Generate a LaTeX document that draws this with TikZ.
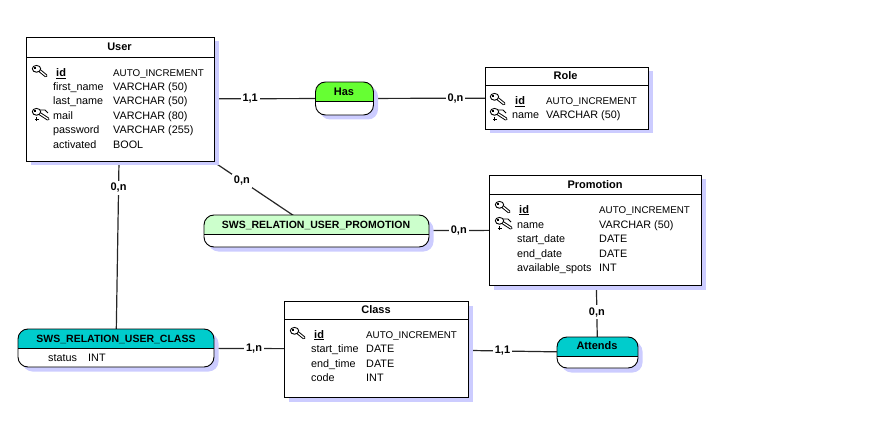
\documentclass[tikz,border=0pt]{standalone}
\usepackage{fontspec}
\setmainfont{Liberation Sans}
\usetikzlibrary{calc, shadows, backgrounds}
\definecolor{ShadowBlue}{RGB}{204, 204, 255}
\definecolor{HasGreen}{RGB}{102, 255, 51}
\definecolor{PaleGreen}{RGB}{204, 255, 204}
\definecolor{RelTeal}{RGB}{0, 204, 204}
\tikzset{
  blueshadow/.style={general shadow={draw=none, fill=ShadowBlue, shadow xshift=4.5pt, shadow yshift=-4.5pt}},
  tablebox/.style={draw=black, fill=white, line width=0.9pt, inner sep=0pt, outer sep=0pt, blueshadow},
  relbox/.style n args={2}{draw=black, fill=white, line width=0.9pt, inner sep=0pt, outer sep=0pt,
    rounded corners=10pt, blueshadow,
    path picture={
      \fill[#1, sharp corners] (path picture bounding box.north west) rectangle ($(path picture bounding box.north east)+(0,-#2)$);
      \draw[line width=0.9pt, sharp corners] ($(path picture bounding box.north west)+(0,-#2)$) -- ($(path picture bounding box.north east)+(0,-#2)$);
    }},
  titletext/.style={font=\fontsize{11}{13}\selectfont\bfseries, anchor=base},
  reltitle/.style={font=\fontsize{10.5}{13}\selectfont\bfseries, anchor=base},
  rowtext/.style={font=\fontsize{10.8}{13}\selectfont, anchor=base west, inner sep=0pt},
  autotext/.style={font=\fontsize{9.8}{13}\selectfont, anchor=base west, inner sep=0pt},
  idtext/.style={font=\fontsize{11}{13}\selectfont\bfseries, anchor=base west, inner sep=0pt},
  link/.style={line width=1.2pt, draw=black!85},
  cardlabel/.style={font=\fontsize{11}{13}\selectfont\bfseries, fill=white, text=black, inner sep=2pt},
  keyone/.pic={
    \draw[line width=3.2pt, line cap=round] (7.5,5.5) -- (14,10.8);
    \draw[white, line width=1.3pt, line cap=round] (7.5,5.5) -- (14,10.8);
    \draw[fill=white, line width=0.9pt] (4.5,3.8) ellipse (4.2 and 3.4);
    \fill[black] (2.4,2.4) rectangle (3.8,3.8);
  },
  keytwo/.pic={
    \draw[line width=0.9pt] (8,2) -- (13,2) -- (16,5);
    \draw[line width=3.2pt, line cap=round] (7.5,5.5) -- (16,11);
    \draw[white, line width=1.3pt, line cap=round] (7.5,5.5) -- (16,11);
    \draw[fill=white, line width=0.9pt] (4.5,3.8) ellipse (4.2 and 3.4);
    \fill[black] (2.4,2.4) rectangle (3.8,3.8);
    \draw[line width=0.8pt] (3,11) -- (6.5,11) (4.75,9.25) -- (4.75,12.75);
  }
}
\begin{document}
\begin{tikzpicture}[x=1pt, y=-1pt]
  \useasboundingbox (0,0) rectangle (896,422);
  % entity tables
  \node (user) [tablebox, minimum width=188pt, minimum height=124pt] at (120,99) {};
  \node (role) [tablebox, minimum width=163pt, minimum height=62pt] at (566.5,98) {};
  \node (promotion) [tablebox, minimum width=212pt, minimum height=110pt] at (595.5,230) {};
  \node (class) [tablebox, minimum width=184pt, minimum height=96pt] at (376.5,349) {};
  % relations
  \node (has) [relbox={HasGreen}{19.5pt}, minimum width=58pt, minimum height=33pt] at (344.5,98.5) {};
  \node (relpromo) [relbox={PaleGreen}{19pt}, minimum width=225pt, minimum height=32pt] at (316.5,231) {};
  \node (relclass) [relbox={RelTeal}{19pt}, minimum width=196pt, minimum height=38pt] at (116,348) {};
  \node (attends) [relbox={RelTeal}{19pt}, minimum width=81pt, minimum height=31pt] at (597.5,352.5) {};
  % header rules
  \draw[line width=0.9pt] (user.west |- 0,57) -- (user.east |- 0,57);
  \draw[line width=0.9pt] (role.west |- 0,85) -- (role.east |- 0,85);
  \draw[line width=0.9pt] (promotion.west |- 0,194.5) -- (promotion.east |- 0,194.5);
  \draw[line width=0.9pt] (class.west |- 0,319.5) -- (class.east |- 0,319.5);
  % titles
  \node (usertitle) [titletext] at (119.5,51) {User};
  \node (roletitle) [titletext] at (565.5,79.5) {Role};
  \node (promotitle) [titletext] at (595,189) {Promotion};
  \node (classtitle) [titletext] at (376,313) {Class};
  \node (hastitle) [titletext] at (344,96) {Has};
  \node (relpromotitle) [reltitle] at (316,228) {SWS\_RELATION\_USER\_PROMOTION};
  \node (relclasstitle) [reltitle] at (116,342) {SWS\_RELATION\_USER\_CLASS};
  \node (attendstitle) [titletext] at (597,349) {Attends};
  % user rows
  \node (userid) [idtext] at (56,77) {\underline{id}};
  \node (useridt) [autotext] at (113,77) {AUTO\_INCREMENT};
  \foreach \y/\nm/\ty [count=\i] in {90.5/first\_name/VARCHAR (50), 105/last\_name/VARCHAR (50),
      119.5/mail/VARCHAR (80), 134/password/VARCHAR (255), 148.5/activated/BOOL} {
    \node (usern\i) [rowtext] at (53,\y) {\nm};
    \node (usert\i) [rowtext] at (113,\y) {\ty};
  }
  % role rows
  \node (roleid) [idtext] at (515,104.5) {\underline{id}};
  \node (roleidt) [autotext] at (546,104.5) {AUTO\_INCREMENT};
  \node (rolen) [rowtext] at (512,119) {name};
  \node (rolet) [rowtext] at (546,119) {VARCHAR (50)};
  % promotion rows
  \node (promoid) [idtext] at (519,213) {\underline{id}};
  \node (promoidt) [autotext] at (599,213) {AUTO\_INCREMENT};
  \foreach \y/\nm/\ty [count=\i] in {228/name/VARCHAR (50), 242.5/start\_date/DATE,
      257/end\_date/DATE, 271.5/available\_spots/INT} {
    \node (promon\i) [rowtext] at (517,\y) {\nm};
    \node (promot\i) [rowtext] at (599,\y) {\ty};
  }
  % class rows
  \node (classid) [idtext] at (314,338) {\underline{id}};
  \node (classidt) [autotext] at (366,338) {AUTO\_INCREMENT};
  \foreach \y/\nm/\ty [count=\i] in {352.5/start\_time/DATE, 367/end\_time/DATE, 381.5/code/INT} {
    \node (classn\i) [rowtext] at (311,\y) {\nm};
    \node (classt\i) [rowtext] at (366,\y) {\ty};
  }
  % relation attributes
  \node (statusn) [rowtext] at (48,361) {status};
  \node (statust) [rowtext] at (88,361) {INT};
  % keys
  \pic at (32,65) {keyone};
  \pic at (32,108) {keytwo};
  \pic at (490,93) {keyone};
  \pic at (490,108) {keytwo};
  \pic at (495,201) {keyone};
  \pic at (495,217) {keytwo};
  \pic at (290,327) {keyone};
  % connectors, under the shadows
  \begin{scope}[on background layer]
    \draw[link] (user.center) -- node[cardlabel, pos=0.58] (cardusera) {1,1} (has.center);
    \draw[link] (has.center) -- node[cardlabel, pos=0.50] (cardrole) {0,n} (role.center);
    \draw[link] (user.center) -- node[cardlabel, pos=0.62] (carduserb) {0,n} (relpromo.center);
    \draw[link] (relpromo.center) -- node[cardlabel, pos=0.51] (cardpromoa) {0,n} (promotion.center);
    \draw[link] (user.center) -- node[cardlabel, pos=0.357] (cardleft) {0,n} (relclass.center);
    \draw[link] (relclass.center) -- node[cardlabel, pos=0.53] (cardclassa) {1,n} (class.center);
    \draw[link] (class.center) -- node[cardlabel, pos=0.57] (cardclassb) {1,1} (attends.center);
    \draw[link] (promotion.center) -- node[cardlabel, pos=0.67] (cardpromob) {0,n} (attends.center);
  \end{scope}
\end{tikzpicture}
\end{document}
